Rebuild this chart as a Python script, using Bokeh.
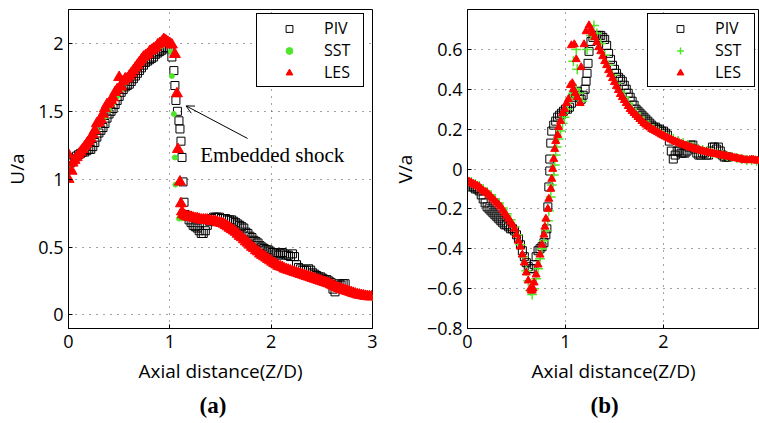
from bokeh.plotting import figure
from bokeh.layouts import row
from bokeh.models import Range1d, FixedTicker, Label, Arrow, OpenHead, Title
from bokeh.embed import file_html
from bokeh.resources import INLINE

# ---------------- panel (a): U/a ----------------
u_piv_x = [0.00, 0.02, 0.04, 0.06, 0.08, 0.10, 0.12, 0.14, 0.16, 0.18, 0.20, 0.22, 0.24, 0.26, 0.28, 0.30,
           0.32, 0.34, 0.36, 0.38, 0.40, 0.42, 0.44, 0.46, 0.48, 0.50, 0.52, 0.54, 0.56, 0.58, 0.60, 0.62,
           0.64, 0.66, 0.68, 0.70, 0.72, 0.74, 0.76, 0.78, 0.80, 0.82, 0.84, 0.86, 0.88, 0.90, 0.92, 0.94,
           0.96, 0.98, 1.00,
           1.02, 1.04, 1.05, 1.06, 1.075, 1.09, 1.10, 1.11, 1.12, 1.13, 1.14,
           1.15, 1.17, 1.19, 1.21, 1.23, 1.25, 1.27, 1.29, 1.31, 1.33, 1.35, 1.37, 1.39, 1.41, 1.43, 1.45,
           1.47, 1.49, 1.51, 1.53, 1.55, 1.57, 1.59, 1.61, 1.63, 1.65, 1.67, 1.69, 1.71, 1.73, 1.75, 1.77,
           1.79, 1.81, 1.83, 1.85, 1.87, 1.89, 1.91, 1.93, 1.95, 1.97, 1.99, 2.01, 2.03, 2.05, 2.07, 2.09,
           2.11, 2.13, 2.15, 2.17, 2.19, 2.21, 2.23, 2.25, 2.27, 2.29, 2.31, 2.33, 2.35, 2.37, 2.39, 2.41,
           2.43, 2.45, 2.47, 2.49, 2.51, 2.53, 2.55, 2.57, 2.59, 2.61, 2.63, 2.65, 2.67, 2.69, 2.71, 2.73]
u_piv_y = [1.10, 1.12, 1.13, 1.15, 1.17, 1.18, 1.19, 1.20, 1.20, 1.21, 1.22, 1.22, 1.24, 1.27, 1.31, 1.34,
           1.36, 1.38, 1.41, 1.45, 1.48, 1.50, 1.52, 1.55, 1.58, 1.61, 1.64, 1.66, 1.68, 1.69, 1.70, 1.72,
           1.74, 1.76, 1.78, 1.80, 1.82, 1.84, 1.86, 1.87, 1.88, 1.89, 1.90, 1.92, 1.93, 1.94, 1.95, 1.96,
           1.97, 1.97, 1.97,
           1.90, 1.80, 1.69, 1.58, 1.50, 1.43, 1.37, 1.28, 1.16, 0.98, 0.83,
           0.74, 0.73, 0.70, 0.68, 0.66, 0.65, 0.64, 0.62, 0.60, 0.60, 0.62, 0.66, 0.69, 0.71, 0.72, 0.72,
           0.72, 0.72, 0.71, 0.71, 0.71, 0.70, 0.70, 0.70, 0.69, 0.68, 0.67, 0.66, 0.65, 0.64, 0.61, 0.60,
           0.58, 0.57, 0.55, 0.54, 0.53, 0.51, 0.50, 0.49, 0.48, 0.48, 0.47, 0.46, 0.46, 0.45, 0.44, 0.45,
           0.46, 0.45, 0.44, 0.44, 0.43, 0.45, 0.43, 0.37, 0.35, 0.34, 0.33, 0.33, 0.33, 0.34, 0.33, 0.31,
           0.30, 0.29, 0.28, 0.28, 0.27, 0.26, 0.26, 0.25, 0.24, 0.19, 0.17, 0.22, 0.23, 0.22, 0.23, 0.23]

u_sst_x = [0.00, 0.04, 0.08, 0.12, 0.16, 0.20, 0.24, 0.28, 0.32, 0.36, 0.40, 0.44, 0.48, 0.52, 0.56, 0.60,
           0.64, 0.68, 0.72, 0.76, 0.80, 0.84, 0.88, 0.92, 0.96, 1.00,
           1.01, 1.02, 1.04, 1.05, 1.055, 1.09,
           1.12, 1.16, 1.20, 1.24, 1.28, 1.32, 1.36, 1.40, 1.44, 1.48, 1.52, 1.56, 1.60, 1.64, 1.68, 1.72,
           1.76, 1.80, 1.84, 1.88, 1.92, 1.96, 2.00, 2.04, 2.08, 2.12, 2.16, 2.20, 2.24, 2.28, 2.32, 2.36,
           2.40, 2.44, 2.48, 2.52, 2.56, 2.60, 2.64, 2.68, 2.72, 2.76, 2.80, 2.84, 2.88, 2.92, 2.96, 3.00]
u_sst_y = [1.10, 1.12, 1.15, 1.19, 1.22, 1.26, 1.31, 1.36, 1.41, 1.46, 1.51, 1.56, 1.61, 1.66, 1.71, 1.75,
           1.79, 1.83, 1.86, 1.89, 1.92, 1.94, 1.96, 1.98, 2.00, 1.99,
           1.94, 1.76, 1.48, 1.16, 0.96, 0.71,
           0.71, 0.715, 0.71, 0.705, 0.70, 0.695, 0.69, 0.685, 0.68, 0.67, 0.66, 0.645, 0.625, 0.60, 0.575, 0.55,
           0.52, 0.495, 0.47, 0.445, 0.425, 0.405, 0.385, 0.37, 0.355, 0.34, 0.325, 0.315, 0.30, 0.29, 0.28, 0.27,
           0.26, 0.25, 0.24, 0.23, 0.22, 0.21, 0.20, 0.19, 0.18, 0.17, 0.16, 0.15, 0.14, 0.135, 0.13, 0.125]

u_les_x = [0.00, 0.00, 0.03, 0.04, 0.06, 0.08, 0.10, 0.12, 0.14, 0.16, 0.18, 0.20, 0.22, 0.24, 0.26, 0.28,
           0.30, 0.32, 0.34, 0.36, 0.38, 0.40, 0.42, 0.44, 0.46, 0.48, 0.50, 0.52, 0.54, 0.56, 0.58, 0.60,
           0.62, 0.64, 0.66, 0.68, 0.70, 0.72, 0.74, 0.76, 0.78, 0.80, 0.82, 0.84, 0.86, 0.88, 0.90, 0.92,
           0.94, 0.96, 0.98, 1.00, 1.02,
           1.05, 1.07, 1.08, 1.10, 1.11, 1.12,
           1.13, 1.15, 1.17, 1.19, 1.21, 1.23, 1.25, 1.27, 1.29, 1.31, 1.33, 1.35, 1.37, 1.39, 1.41, 1.43,
           1.45, 1.47, 1.49, 1.51, 1.53, 1.55, 1.57, 1.59, 1.61, 1.63, 1.65, 1.67, 1.69, 1.71, 1.73, 1.75,
           1.77, 1.79, 1.81, 1.83, 1.85, 1.87, 1.89, 1.91, 1.93, 1.95, 1.97, 1.99, 2.01, 2.03, 2.05, 2.07,
           2.09, 2.11, 2.13, 2.15, 2.17, 2.19, 2.21, 2.23, 2.25, 2.27, 2.29, 2.31, 2.33, 2.35, 2.37, 2.39,
           2.41, 2.43, 2.45, 2.47, 2.49, 2.51, 2.53, 2.55, 2.57, 2.59, 2.61, 2.63, 2.65, 2.67, 2.69, 2.71,
           2.73, 2.75, 2.77, 2.79, 2.81, 2.83, 2.85, 2.87, 2.89, 2.91, 2.93, 2.95, 2.97, 2.99]
u_les_y = [1.00, 1.18, 1.06, 1.12, 1.14, 1.16, 1.18, 1.20, 1.22, 1.24, 1.26, 1.28, 1.30, 1.33, 1.36, 1.41,
           1.42, 1.44, 1.48, 1.52, 1.55, 1.56, 1.58, 1.60, 1.64, 1.66, 1.75, 1.68, 1.72, 1.74, 1.74, 1.76,
           1.78, 1.80, 1.82, 1.84, 1.86, 1.88, 1.90, 1.91, 1.92, 1.94, 1.95, 1.96, 1.97, 1.99, 2.00, 2.01,
           2.03, 2.02, 2.01, 2.00, 1.99,
           1.92, 1.63, 1.22, 0.98, 0.82, 0.76,
           0.74, 0.73, 0.725, 0.72, 0.72, 0.715, 0.71, 0.71, 0.705, 0.70, 0.70, 0.70, 0.70, 0.695, 0.69, 0.69,
           0.69, 0.68, 0.68, 0.675, 0.67, 0.66, 0.65, 0.64, 0.63, 0.62, 0.61, 0.595, 0.58, 0.57, 0.555, 0.54,
           0.53, 0.515, 0.50, 0.49, 0.475, 0.465, 0.45, 0.44, 0.43, 0.42, 0.41, 0.40, 0.39, 0.38, 0.37, 0.36,
           0.355, 0.35, 0.34, 0.335, 0.33, 0.325, 0.32, 0.315, 0.31, 0.305, 0.30, 0.295, 0.29, 0.285, 0.28, 0.275,
           0.27, 0.265, 0.26, 0.255, 0.25, 0.245, 0.24, 0.235, 0.23, 0.222, 0.215, 0.208, 0.20, 0.195, 0.19, 0.185,
           0.18, 0.175, 0.17, 0.165, 0.16, 0.155, 0.15, 0.147, 0.144, 0.141, 0.138, 0.136, 0.135, 0.134]

# ---------------- panel (b): V/a ----------------
v_piv_x = [0.00, 0.02, 0.04, 0.06, 0.08, 0.10, 0.12, 0.14, 0.16, 0.18, 0.20, 0.22, 0.24, 0.26, 0.28, 0.30,
           0.32, 0.34, 0.36, 0.38, 0.40, 0.42, 0.44, 0.46, 0.48, 0.50, 0.52, 0.54, 0.56, 0.58, 0.60, 0.62,
           0.64, 0.66, 0.68, 0.70, 0.72, 0.74, 0.76, 0.78, 0.80, 0.81, 0.82, 0.83, 0.84, 0.84, 0.85, 0.86,
           0.88, 0.90, 0.92, 0.94, 0.96, 0.98, 1.00, 1.02, 1.04, 1.06, 1.08, 1.10, 1.12, 1.14, 1.16, 1.18,
           1.20, 1.21, 1.22, 1.23, 1.24, 1.26, 1.28, 1.30, 1.32, 1.34, 1.36, 1.38, 1.40, 1.42, 1.44, 1.46,
           1.48, 1.50, 1.52, 1.54, 1.56, 1.58, 1.60, 1.62, 1.64, 1.66, 1.68, 1.70, 1.72, 1.74, 1.76, 1.78,
           1.80, 1.82, 1.84, 1.86, 1.88, 1.90, 1.92, 1.94, 1.96, 1.98, 2.00, 2.02, 2.04, 2.06, 2.08, 2.10,
           2.12, 2.14, 2.16, 2.18, 2.20, 2.22, 2.24, 2.26, 2.28, 2.30, 2.32, 2.34, 2.36, 2.38, 2.40, 2.42,
           2.44, 2.46, 2.48, 2.50, 2.52, 2.54, 2.56, 2.58, 2.60, 2.62, 2.64, 2.66]
v_piv_y = [-0.07, -0.08, -0.09, -0.09, -0.10, -0.10, -0.11, -0.13, -0.15, -0.17, -0.19, -0.20, -0.21, -0.22, -0.23, -0.24,
           -0.25, -0.26, -0.27, -0.28, -0.28, -0.29, -0.30, -0.30, -0.31, -0.33, -0.35, -0.38, -0.41, -0.44, -0.47, -0.49,
           -0.50, -0.50, -0.48, -0.44, -0.41, -0.40, -0.39, -0.37, -0.33, -0.30, -0.19, -0.09, -0.01, 0.05, 0.13, 0.19,
           0.22, 0.24, 0.26, 0.27, 0.28, 0.29, 0.30, 0.30, 0.31, 0.33, 0.36, 0.38, 0.39, 0.37, 0.35, 0.37,
           0.40, 0.44, 0.48, 0.53, 0.59, 0.64, 0.66, 0.67, 0.67, 0.67, 0.67, 0.66, 0.65, 0.62, 0.58, 0.55,
           0.52, 0.50, 0.48, 0.46, 0.45, 0.44, 0.42, 0.40, 0.38, 0.36, 0.34, 0.32, 0.30, 0.29, 0.28, 0.27,
           0.26, 0.25, 0.24, 0.23, 0.22, 0.21, 0.21, 0.20, 0.20, 0.19, 0.19, 0.18, 0.17, 0.14, 0.09, 0.05,
           0.07, 0.09, 0.09, 0.08, 0.08, 0.08, 0.09, 0.11, 0.12, 0.12, 0.10, 0.08, 0.07, 0.07, 0.08, 0.08,
           0.07, 0.07, 0.09, 0.11, 0.11, 0.10, 0.11, 0.09, 0.07, 0.06, 0.06, 0.06]

v_sst_x = [0.00, 0.04, 0.08, 0.12, 0.16, 0.20, 0.24, 0.28, 0.32, 0.36, 0.40, 0.44, 0.48, 0.51, 0.54, 0.57,
           0.60, 0.62, 0.64, 0.66, 0.68, 0.70, 0.72, 0.74, 0.76, 0.78, 0.80, 0.82, 0.83, 0.85, 0.86, 0.88,
           0.89, 0.90, 0.91, 0.93, 0.95, 0.97, 0.99, 1.02, 1.05, 1.08, 1.11, 1.14, 1.17,
           1.08, 1.11, 1.12, 1.22, 1.26, 1.29,
           1.32, 1.36, 1.40, 1.44, 1.48, 1.52, 1.56, 1.60, 1.64, 1.68, 1.72, 1.76, 1.80, 1.85, 1.90, 1.95,
           2.00, 2.05, 2.10, 2.15, 2.20, 2.25, 2.30, 2.35, 2.40, 2.45, 2.50, 2.55, 2.60, 2.65, 2.70, 2.75,
           2.80, 2.85, 2.90, 2.95]
v_sst_y = [-0.06, -0.065, -0.075, -0.085, -0.10, -0.115, -0.13, -0.15, -0.17, -0.195, -0.225, -0.255, -0.29, -0.33, -0.38, -0.44,
           -0.51, -0.56, -0.61, -0.63, -0.60, -0.55, -0.50, -0.45, -0.40, -0.36, -0.31, -0.26, -0.21, -0.14, -0.08, -0.03,
           0.02, 0.07, 0.11, 0.15, 0.19, 0.23, 0.26, 0.30, 0.35, 0.38, 0.40, 0.38, 0.34,
           0.54, 0.60, 0.50, 0.60, 0.67, 0.72,
           0.68, 0.63, 0.57, 0.52, 0.47, 0.43, 0.39, 0.36, 0.33, 0.30, 0.28, 0.26, 0.24, 0.22, 0.20, 0.185,
           0.17, 0.16, 0.15, 0.14, 0.13, 0.12, 0.11, 0.10, 0.095, 0.09, 0.08, 0.075, 0.07, 0.065, 0.06, 0.055,
           0.05, 0.045, 0.045, 0.04]

v_les_x = [0.00, 0.02, 0.04, 0.06, 0.08, 0.10, 0.12, 0.14, 0.16, 0.18, 0.20, 0.22, 0.24, 0.26, 0.28, 0.30,
           0.32, 0.34, 0.36, 0.38, 0.40, 0.42, 0.44, 0.46, 0.48, 0.50, 0.52, 0.54, 0.56, 0.58, 0.60, 0.62,
           0.64, 0.65, 0.66, 0.67, 0.68, 0.70, 0.72, 0.74, 0.76, 0.78, 0.79, 0.80, 0.82, 0.83, 0.85, 0.86,
           0.87, 0.88, 0.89, 0.90, 0.92, 0.93, 0.95, 0.97, 0.99, 1.01, 1.03, 1.05, 1.07, 1.08, 1.10, 1.12,
           1.15, 1.06, 1.09, 1.11, 1.16, 1.19, 1.21,
           1.24, 1.26, 1.28, 1.30, 1.32, 1.34, 1.36, 1.38, 1.40, 1.42, 1.44, 1.46, 1.48, 1.50, 1.52, 1.54,
           1.56, 1.58, 1.60, 1.62, 1.64, 1.66, 1.68, 1.70, 1.72, 1.74, 1.76, 1.78, 1.80, 1.82, 1.84, 1.86,
           1.88, 1.90, 1.92, 1.94, 1.96, 1.98, 2.00, 2.02, 2.04, 2.06, 2.08, 2.10, 2.12, 2.14, 2.16, 2.18,
           2.20, 2.22, 2.24, 2.26, 2.28, 2.30, 2.32, 2.34, 2.36, 2.38, 2.40, 2.42, 2.44, 2.46, 2.48, 2.50,
           2.52, 2.54, 2.56, 2.58, 2.60, 2.62, 2.64, 2.66, 2.68, 2.70, 2.72, 2.74, 2.76, 2.78, 2.80, 2.82,
           2.84, 2.86, 2.88, 2.90, 2.92, 2.94, 2.96]
v_les_y = [-0.06, -0.065, -0.07, -0.075, -0.08, -0.085, -0.09, -0.10, -0.11, -0.115, -0.12, -0.13, -0.14, -0.15, -0.16, -0.17,
           -0.18, -0.19, -0.205, -0.22, -0.235, -0.25, -0.265, -0.28, -0.30, -0.33, -0.36, -0.39, -0.43, -0.47, -0.52, -0.56,
           -0.60, -0.61, -0.61, -0.60, -0.57, -0.53, -0.48, -0.43, -0.38, -0.33, -0.29, -0.25, -0.20, -0.15, -0.10, -0.05,
           0.00, 0.05, 0.10, 0.14, 0.17, 0.21, 0.24, 0.28, 0.30, 0.33, 0.35, 0.42, 0.43, 0.40, 0.38, 0.36,
           0.33, 0.62, 0.625, 0.55, 0.51, 0.625, 0.69,
           0.72, 0.70, 0.68, 0.66, 0.635, 0.61, 0.59, 0.565, 0.54, 0.52, 0.495, 0.475, 0.455, 0.435, 0.415, 0.395,
           0.375, 0.36, 0.345, 0.33, 0.315, 0.30, 0.29, 0.28, 0.27, 0.26, 0.25, 0.24, 0.23, 0.222, 0.215, 0.208,
           0.20, 0.195, 0.19, 0.184, 0.178, 0.172, 0.167, 0.162, 0.157, 0.152, 0.147, 0.142, 0.138, 0.134, 0.13, 0.126,
           0.122, 0.118, 0.114, 0.11, 0.107, 0.104, 0.101, 0.098, 0.095, 0.092, 0.09, 0.087, 0.085, 0.082, 0.08, 0.078,
           0.076, 0.074, 0.072, 0.07, 0.068, 0.066, 0.064, 0.062, 0.06, 0.058, 0.056, 0.054, 0.052, 0.05, 0.048, 0.046,
           0.044, 0.043, 0.045, 0.047, 0.045, 0.043, 0.041]

u_xticks = [0, 1, 2, 3]
u_yticks = [0, 0.5, 1, 1.5, 2]
u_ylabels = ["0", "0.5", "1", "1.5", "2"]
v_xticks = [0, 1, 2, 3]
v_yticks = [-0.8, -0.6, -0.4, -0.2, 0, 0.2, 0.4, 0.6]
v_ylabels = ["\u22120.8", "\u22120.6", "\u22120.4", "\u22120.2", "0", "0.2", "0.4", "0.6"]

GREEN = "#4fe62a"
RED = "#ff0000"
FONT = "Open Sans"


def style(p, xticks, yticks, ylabels, ylabel_text, ylab_standoff):
    p.xaxis.ticker = FixedTicker(ticks=xticks)
    p.yaxis.ticker = FixedTicker(ticks=yticks)
    p.xaxis.major_label_overrides = {float(t): str(t) for t in xticks}
    p.yaxis.major_label_overrides = {float(t): l for t, l in zip(yticks, ylabels)}
    for ax in (p.xaxis[0], p.yaxis[0]):
        ax.major_label_text_font = FONT
        ax.major_label_text_font_size = "18px"
        ax.major_label_text_color = "black"
        ax.axis_label_text_font = FONT
        ax.axis_label_text_font_size = "19px"
        ax.axis_label_text_font_style = "normal"
        ax.axis_label_text_color = "black"
        ax.axis_line_color = "black"
        ax.major_tick_line_color = "black"
        ax.major_tick_in = 4
        ax.major_tick_out = 0
        ax.minor_tick_in = 0
        ax.minor_tick_out = 0
        ax.major_label_standoff = 6
    p.xaxis.axis_label = "Axial distance(Z/D)"
    p.xaxis.axis_label_standoff = 7
    p.yaxis.axis_label = ylabel_text
    p.yaxis.axis_label_standoff = ylab_standoff
    p.yaxis.major_label_standoff = 5
    for g in (p.xgrid[0], p.ygrid[0]):
        g.ticker = FixedTicker(ticks=xticks if g.dimension == 0 else yticks)
        g.grid_line_color = "#333333"
        g.grid_line_dash = "1 6"
        g.grid_line_width = 1
        g.grid_line_alpha = 0.9
    p.outline_line_color = "black"
    p.outline_line_width = 1
    p.outline_line_alpha = 1
    p.background_fill_color = "white"
    p.border_fill_color = "white"


def style_legend(p, loc):
    lg = p.legend[0]
    lg.location = loc
    lg.border_line_color = "black"
    lg.border_line_width = 1
    lg.border_line_alpha = 1
    lg.background_fill_alpha = 1
    lg.padding = 3
    lg.spacing = 0
    lg.margin = 0
    lg.label_height = 17
    lg.glyph_height = 17
    lg.glyph_width = 58
    lg.label_standoff = 6
    lg.label_width = 36
    lg.label_text_font = FONT
    lg.label_text_font_size = "16px"
    lg.label_text_color = "black"


def caption(p, text, offset):
    p.add_layout(Title(text=text, align="left", text_font="Liberation Serif", text_font_size="23px",
                       text_font_style="bold", text_color="black", standoff=8, offset=offset), "below")


# ---------- figure (a) ----------
p1 = figure(frame_width=304, frame_height=319, min_border_left=68, min_border_right=8,
            min_border_top=9, min_border_bottom=0, x_range=Range1d(0, 3), y_range=Range1d(-0.1, 2.25),
            output_backend="svg", toolbar_location=None, height=423)
p1.scatter(u_piv_x, u_piv_y, marker="square", size=8, fill_color=None, line_color="black",
           line_width=1, legend_label="PIV")
p1.scatter(u_sst_x, u_sst_y, marker="circle", size=5, fill_color=GREEN, line_color=GREEN,
           legend_label="SST")
p1.scatter(u_les_x, u_les_y, marker="triangle", size=11, fill_color=RED, line_color=RED,
           legend_label="LES")
style(p1, u_xticks, u_yticks, u_ylabels, "U/a", 5)
style_legend(p1, (188, 241))
p1.add_layout(Arrow(end=OpenHead(size=8, line_width=1, line_color="black"), x_start=1.767, y_start=1.30,
                    x_end=1.16, y_end=1.54, line_width=1, line_color="black"))
p1.add_layout(Label(x=1.30, y=1.18, text="Embedded shock", text_font="Liberation Serif",
                    text_font_size="21px", text_baseline="middle", text_color="black"))
caption(p1, "(a)", 131)

# ---------- figure (b) ----------
p2 = figure(frame_width=292, frame_height=319, min_border_left=87, min_border_right=0,
            min_border_top=9, min_border_bottom=0, x_range=Range1d(0, 2.98), y_range=Range1d(-0.8, 0.8),
            output_backend="svg", toolbar_location=None, height=423)
p2.scatter(v_piv_x, v_piv_y, marker="square", size=8, fill_color=None, line_color="black",
           line_width=1, legend_label="PIV")
p2.scatter(v_sst_x, v_sst_y, marker="cross", size=10, line_color=GREEN, line_width=1.5,
           legend_label="SST")
p2.scatter(v_les_x, v_les_y, marker="triangle", size=8, fill_color=RED, line_color=RED,
           legend_label="LES")
style(p2, v_xticks, v_yticks, v_ylabels, "V/a", 6)
style_legend(p2, (180, 241))
caption(p2, "(b)", 123)

layout = row(p1, p2)
open("out.html", "w").write(file_html(layout, INLINE))
